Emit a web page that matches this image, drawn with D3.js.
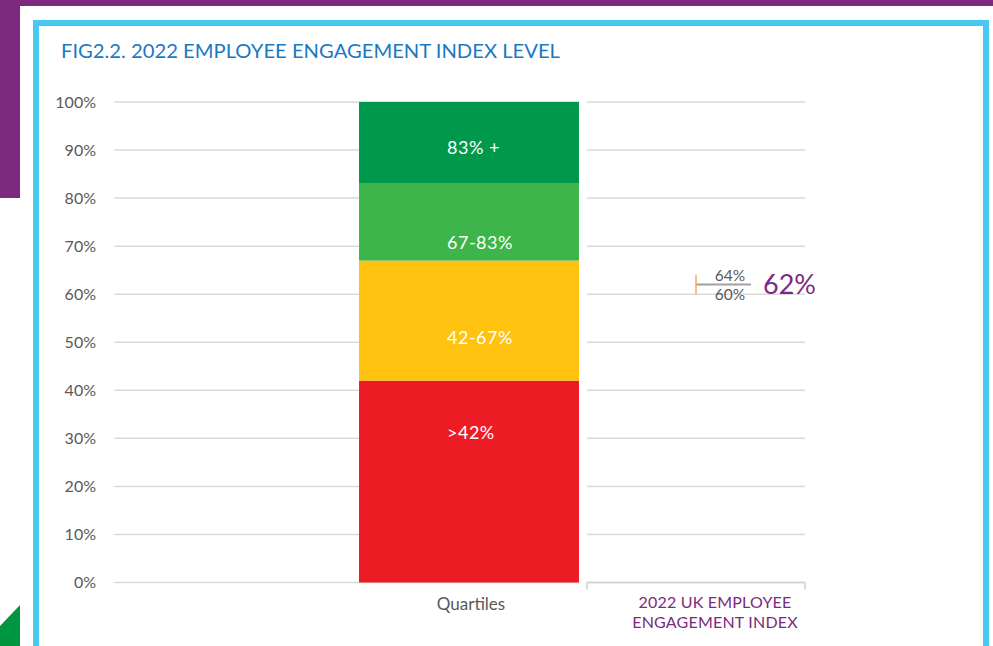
<!DOCTYPE html>
<html>
<head>
<meta charset="utf-8">
<script src="https://cdn.jsdelivr.net/npm/d3@7"></script>
<style>
  html, body { margin: 0; padding: 0; background: #fff; }
  svg { display: block; }
  text { font-family: Lato, "Open Sans", sans-serif; }
</style>
</head>
<body>
<svg id="chart" width="993" height="646"></svg>
<script>
// ---------- data ----------
const categories = ["Quartiles", "2022 UK EMPLOYEE ENGAGEMENT INDEX"];
const categoryLines = [["Quartiles"], ["2022 UK EMPLOYEE", "ENGAGEMENT INDEX"]];
const bandNames = [">42%", "42-67%", "67-83%", "83% +"];
const bandStarts = [0, 0.42, 0.67, 0.83];
const bandEnds = [0.42, 0.67, 0.83, 1.00];
const bandLabelAt = [0.312, 0.51, 0.708, 0.906];
const bandColors = ["#ed1c24", "#ffc20e", "#3db54a", "#00984a"];
const ukIndex = [0.62];
const ukLow = [0.60];
const ukHigh = [0.64];
const yTicks = [0, 0.1, 0.2, 0.3, 0.4, 0.5, 0.6, 0.7, 0.8, 0.9, 1.0];
const titleText = "FIG2.2. 2022 EMPLOYEE ENGAGEMENT INDEX LEVEL";

// ---------- page frame ----------
const svg = d3.select("#chart");
const purple = "#7b2a80";
const cyan = "#47c9f2";

svg.append("rect").attr("x", 0).attr("y", 0).attr("width", 993).attr("height", 6).attr("fill", purple);
svg.append("rect").attr("x", 0).attr("y", 0).attr("width", 20).attr("height", 198).attr("fill", purple);
svg.append("polygon").attr("points", "0,626 20,605 20,646 0,646").attr("fill", "#00953f");
svg.append("rect").attr("x", 36).attr("y", 23).attr("width", 950).attr("height", 640)
  .attr("fill", "#fff").attr("stroke", cyan).attr("stroke-width", 6);

svg.append("text").attr("x", 61).attr("y", 58)
  .attr("font-size", 20).attr("fill", "#1b78c2")
  .attr("textLength", 499).attr("lengthAdjust", "spacingAndGlyphs")
  .text(titleText);

// ---------- scales ----------
const plotLeft = 114, plotRight = 805;
const y = d3.scaleLinear().domain([0, 1]).range([582.5, 102]);
const x = d3.scaleBand().domain(categories).range([355.5, 809.5]).paddingInner(0.031).paddingOuter(0.0155);

const qx = x(categories[0]);
const bw = x.bandwidth();
const ukC = x(categories[1]) + bw / 2;
const half = x.step() * 0.48;

// ---------- gridlines ----------
const grid = svg.append("g");
yTicks.forEach(t => {
  grid.append("line").attr("x1", plotLeft).attr("x2", qx + bw)
    .attr("y1", y(t)).attr("y2", y(t)).attr("stroke", "#d9d9d9").attr("stroke-width", 1.5);
  grid.append("line").attr("x1", ukC - half).attr("x2", plotRight)
    .attr("y1", y(t)).attr("y2", y(t)).attr("stroke", "#d9d9d9").attr("stroke-width", 1.5);
});

// y axis labels
const yAxis = d3.axisLeft(y).tickValues(yTicks).tickFormat(d3.format(".0%")).tickSize(0).tickPadding(0);
const ya = svg.append("g").attr("transform", "translate(96,0)").call(yAxis);
ya.select(".domain").remove();
ya.selectAll("text").attr("font-size", 16).attr("fill", "#595959").attr("font-family", "Lato, sans-serif");

// x axis segment for second category
svg.append("line").attr("x1", ukC - half).attr("x2", plotRight).attr("y1", y(0)).attr("y2", y(0))
  .attr("stroke", "#d0d0d0").attr("stroke-width", 1.5);
[ukC - half, plotRight].forEach(px => {
  svg.append("line").attr("x1", px).attr("x2", px).attr("y1", y(0)).attr("y2", y(0) + 7)
    .attr("stroke", "#d0d0d0").attr("stroke-width", 1.5);
});

// ---------- stacked bar ----------
const bars = svg.append("g");
bandNames.forEach((n, i) => {
  bars.append("rect").attr("x", qx).attr("width", bw)
    .attr("y", y(bandEnds[i])).attr("height", y(bandStarts[i]) - y(bandEnds[i]))
    .attr("fill", bandColors[i]);
  bars.append("text").attr("x", qx + bw / 2 - 22).attr("y", y(bandLabelAt[i]))
    .attr("dy", "0.36em").attr("font-size", 18).attr("fill", "#fff").attr("letter-spacing", 0.5)
    .text(n);
});

// ---------- UK index marker with error bar ----------
svg.append("line").attr("x1", ukC).attr("x2", ukC + 55).attr("y1", y(ukIndex[0])).attr("y2", y(ukIndex[0]))
  .attr("stroke", "#a0a0a0").attr("stroke-width", 2);
svg.append("line").attr("x1", ukC).attr("x2", ukC).attr("y1", y(ukHigh[0])).attr("y2", y(ukLow[0]))
  .attr("stroke", "#f5a860").attr("stroke-width", 1.5);
svg.append("text").attr("x", ukC + 34).attr("y", y(ukHigh[0])).attr("dy", "0.36em")
  .attr("text-anchor", "middle").attr("font-size", 15.5).attr("fill", "#595959")
  .text(d3.format(".0%")(ukHigh[0]));
svg.append("text").attr("x", ukC + 34).attr("y", y(ukLow[0])).attr("dy", "0.36em")
  .attr("text-anchor", "middle").attr("font-size", 15.5).attr("fill", "#595959")
  .text(d3.format(".0%")(ukLow[0]));
svg.append("text").attr("x", ukC + 67).attr("y", y(ukIndex[0])).attr("dy", "0.36em")
  .attr("font-size", 27).attr("fill", purple)
  .text(d3.format(".0%")(ukIndex[0]));

// ---------- category labels ----------
svg.append("text").attr("x", qx + bw / 2 + 2).attr("y", 604).attr("dy", "0.36em")
  .attr("text-anchor", "middle").attr("font-size", 17).attr("fill", "#595959")
  .text(categoryLines[0][0]);
categoryLines[1].forEach((l, i) => {
  svg.append("text").attr("x", ukC + 19).attr("y", 602 + i * 20).attr("dy", "0.36em")
    .attr("text-anchor", "middle").attr("font-size", 16).attr("fill", purple).attr("letter-spacing", 0.2)
    .text(l);
});
</script>
</body>
</html>
